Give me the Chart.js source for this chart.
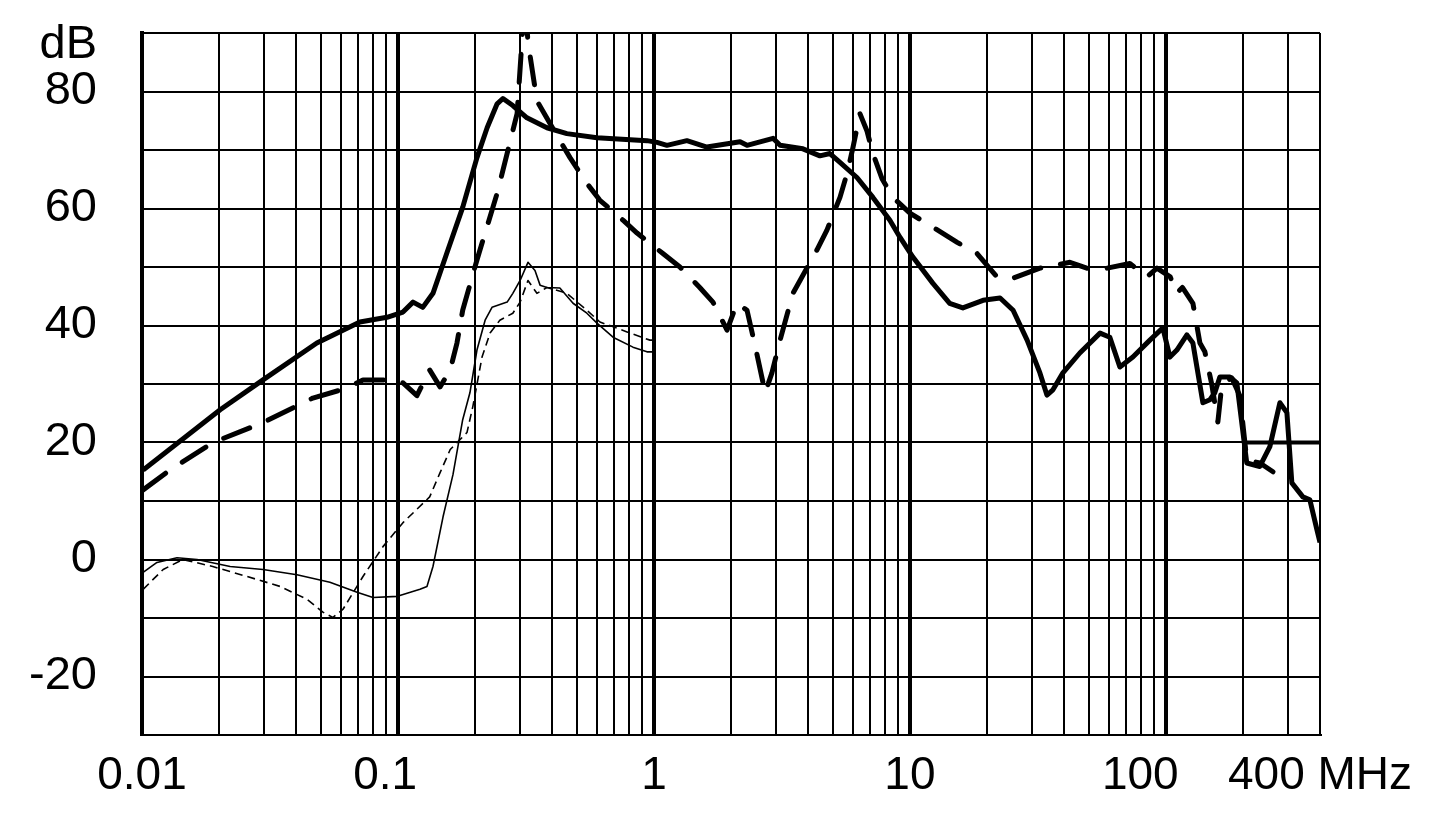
<!DOCTYPE html>
<html lang="en">
<head>
  <meta charset="UTF-8">
  <title>Attenuation vs frequency</title>
  <style>
    html, body { margin: 0; padding: 0; background: #fff; }
    #wrap { position: relative; width: 1445px; height: 820px; }
  </style>
</head>
<body>
  <div id="wrap">
    <canvas id="chart" role="img" aria-label="Attenuation in dB versus frequency from 0.01 to 400 MHz"></canvas>
  </div>

  <script src="https://cdn.jsdelivr.net/npm/chart.js@4.4.1/dist/chart.umd.min.js"></script>
  <script>
    // thick solid curve
    const solidFreq = [0.0101, 0.0202, 0.0297, 0.0482, 0.071, 0.0906, 0.1046, 0.1145, 0.125, 0.137,
      0.155, 0.179, 0.2035, 0.223, 0.244, 0.257, 0.281, 0.319, 0.382, 0.457, 0.599, 0.939, 1.028,
      1.124, 1.345, 1.61, 2.17, 2.31, 2.92, 3.11, 3.82, 4.45, 4.87, 5.33, 6.21, 7.17, 8.35, 9.14,
      10.27, 12.3, 14.3, 16.1, 19.3, 22.5, 25.3, 28.7, 32.2, 34.3, 36.2, 39.6, 46.1, 55.3, 60.4,
      66.1, 74.3, 86.6, 97.3, 103.7, 110.4, 120.8, 127.5, 139.5, 148.6, 155.3, 162.5, 177.8, 189.3,
      207, 232.8, 254.8, 278.8, 297, 310.5, 342.8, 365.2, 389, 400];
    const solidDb = [15.3, 25.6, 30.7, 37.0, 40.6, 41.4, 42.3, 44.0, 43.1, 45.5,
      52.3, 60.2, 68.7, 73.8, 77.9, 78.8, 77.6, 75.5, 73.8, 72.8, 72.1, 71.6, 71.3,
      70.8, 71.6, 70.5, 71.4, 70.8, 72.0, 70.8, 70.2, 69.0, 69.4, 67.9, 65.3, 61.9, 58.0, 55.1,
      51.7, 47.2, 43.8, 43.0, 44.3, 44.7, 42.6, 37.5, 31.9, 28.1, 29.0, 31.9, 35.3, 38.7, 38.0,
      32.9, 34.6, 37.5, 39.6, 34.6, 35.8, 38.4, 37.0, 26.8, 27.3, 28.5, 31.2, 31.2, 30.2,
      16.5, 15.9, 19.3, 26.8, 25.1, 13.1, 10.7, 10.2, 5.1, 2.9];

    // thick dashed curve
    const dashFreq = [0.0101, 0.01286, 0.01893, 0.0297, 0.0465, 0.0632, 0.073, 0.0995, 0.1046, 0.1186,
      0.133, 0.146, 0.16, 0.17, 0.179, 0.2035, 0.244, 0.292, 0.313, 0.322, 0.349, 0.429, 0.47, 0.547,
      0.615, 0.757, 0.859, 1.084, 1.263, 1.51, 1.70, 1.93, 2.11, 2.31, 2.48, 2.72, 2.89, 3.11, 3.49,
      3.82, 4.33, 4.74, 5.33, 5.68, 5.99, 6.38, 6.79, 7.17, 7.78, 8.59, 10, 12.3, 15.3, 18.3, 21.9,
      25.3, 32.2, 42.2, 49.1, 58.9, 72.3, 84.3, 92.3, 104, 110, 116, 127.5, 135.8, 142, 151, 159.6,
      165.5, 181, 194.5, 207, 233, 262];
    const dashDb = [11.9, 15.3, 20.0, 23.4, 27.6, 29.3, 30.7, 30.7, 30.2, 28.0,
      32.4, 29.5, 32.4, 37.0, 42.6, 51.2, 62.6, 76.2, 96.0, 88.5, 78.4, 71.6, 68.7, 64.3,
      61.4, 58.0, 55.8, 52.3, 50.0, 46.5, 44.0, 39.2, 43.8, 42.6, 36.7, 28.5, 31.9, 37.5, 45.5,
      48.6, 52.9, 56.3, 61.9, 66.0, 70.4, 76.2, 73.3, 69.4, 65.1, 61.9, 59.2, 56.8, 54.2, 52.3, 48.3,
      48.1, 49.8, 50.8, 49.8, 49.8, 50.6, 48.3, 49.8, 48.3, 45.5, 46.5, 43.8, 37.0, 35.5, 30.0, 23.5,
      30.0, 31.0, 28.0, 17.0, 16.5, 15.0];

    // thin solid curve
    const thinFreq = [0.0101, 0.01144, 0.0137, 0.0164, 0.0221, 0.0297, 0.0403, 0.0542, 0.0692, 0.0799,
      0.0995, 0.1219, 0.1298, 0.137, 0.15, 0.164, 0.179, 0.191, 0.2035, 0.219, 0.233, 0.267, 0.281,
      0.30, 0.322, 0.343, 0.359, 0.382, 0.429, 0.483, 0.547, 0.599, 0.692, 0.828, 0.939, 1.0];
    const thinDb = [-2.2, -0.5, 0.3, 0.0, -1.2, -1.7, -2.6, -3.9, -5.6, -6.5,
      -6.3, -5.1, -4.6, -1.2, 7.3, 14.5, 23.9, 28.5, 35.8, 40.9, 43.1, 44.0, 45.5,
      47.7, 50.8, 49.4, 46.9, 46.5, 46.4, 43.8, 42.1, 40.4, 38.0, 36.3, 35.5, 35.5];

    // thin dashed curve
    const thinDashFreq = [0.0101, 0.0121, 0.01446, 0.0189, 0.0257, 0.0346, 0.0441, 0.0509, 0.0557, 0.061,
      0.073, 0.0874, 0.1046, 0.133, 0.1459, 0.16, 0.186, 0.196, 0.213, 0.229, 0.25, 0.281, 0.30,
      0.322, 0.349, 0.382, 0.457, 0.547, 0.615, 0.785, 0.965, 1.0];
    const thinDashDb = [-5.1, -1.7, 0.0, -1.2, -2.9, -4.6, -6.8, -9.0, -9.9, -8.5,
      -2.9, 2.2, 6.3, 10.7, 14.8, 18.8, 21.7, 26.1, 34.6, 38.7, 40.9, 42.1, 44.0,
      47.7, 45.5, 46.5, 45.5, 42.6, 40.6, 38.9, 37.5, 37.5];

    // bold 20 dB segment at the right edge
    const limitFreq = [200, 400];
    const limitDb = [20, 20];

    // axes
    const xGridValues = [];
    [0.01, 0.1, 1, 10].forEach(d => { for (let m = 1; m <= 9; m++) xGridValues.push(+(d * m).toPrecision(3)); });
    xGridValues.push(100, 200, 300, 400);
    const xLabelValues = [0.01, 0.1, 1, 10, 100, 400];
    const xLabels = ['0.01', '0.1  ', '1', '10', '100    ', '400 MHz'];

    // 88 only carries the unit label, no grid line
    const yGridValues = [-30, -20, -10, 0, 10, 20, 30, 40, 50, 60, 70, 80, 88, 90];
    const yLabelValues = [88, 80, 60, 40, 20, 0, -20];
    const yLabels = ['dB', '80', '60', '40', '20', '0', '-20'];

    const pts = (xs, ys) => xs.map((x, i) => ({ x, y: ys[i] }));
    const isDecade = v => v <= 100 && Math.abs(Math.log10(v) - Math.round(Math.log10(v))) < 1e-6;
    const font = { family: "'Liberation Sans', Arial, sans-serif", size: 46 };

    new Chart(document.getElementById('chart'), {
      type: 'line',
      data: {
        datasets: [
          { data: pts(solidFreq, solidDb), borderWidth: 5 },
          { data: pts(dashFreq, dashDb), borderWidth: 5, borderDash: [28, 20], borderCapStyle: 'round' },
          { data: pts(thinFreq, thinDb), borderWidth: 1.6 },
          { data: pts(thinDashFreq, thinDashDb), borderWidth: 1.6, borderDash: [8, 5] },
          { data: pts(limitFreq, limitDb), borderWidth: 4 }
        ]
      },
      options: {
        responsive: true,
        maintainAspectRatio: false,
        animation: false,
        layout: { padding: { top: 33, right: 125, left: 0, bottom: 0 } },
        elements: {
          point: { radius: 0 },
          line: { borderColor: '#000', tension: 0, borderJoinStyle: 'round', fill: false }
        },
        plugins: { legend: { display: false }, tooltip: { enabled: false } },
        scales: {
          x: {
            type: 'logarithmic',
            min: 0.01,
            max: 400,
            afterBuildTicks: axis => { axis.ticks = xGridValues.map(v => ({ value: v })); },
            afterFit: axis => { axis.height = 85; axis.paddingLeft = 0; axis.paddingRight = 0; },
            border: { color: '#000', width: 2 },
            grid: {
              color: '#000',
              drawTicks: false,
              lineWidth: ctx => (ctx.tick && isDecade(ctx.tick.value)) ? 4 : 2
            },
            ticks: {
              autoSkip: false,
              maxRotation: 0,
              padding: 14,
              color: '#000',
              font,
              callback: v => {
                const i = xLabelValues.findIndex(t => Math.abs(t - v) < 1e-9);
                return i >= 0 ? xLabels[i] : '';
              }
            }
          },
          y: {
            min: -30,
            max: 90,
            afterBuildTicks: axis => { axis.ticks = yGridValues.map(v => ({ value: v })); },
            afterFit: axis => { axis.width = 142; axis.paddingTop = 0; axis.paddingBottom = 0; },
            border: { color: '#000', width: 4 },
            grid: {
              color: ctx => (ctx.tick && ctx.tick.value % 10 !== 0) ? 'rgba(0,0,0,0)' : '#000',
              lineWidth: 2,
              drawTicks: false
            },
            ticks: {
              autoSkip: false,
              padding: 45,
              color: '#000',
              font: { family: "'Liberation Sans', Arial, sans-serif", size: 47 },
              callback: v => {
                const i = yLabelValues.indexOf(v);
                return i >= 0 ? yLabels[i] : '';
              }
            }
          }
        }
      }
    });
  </script>
</body>
</html>
